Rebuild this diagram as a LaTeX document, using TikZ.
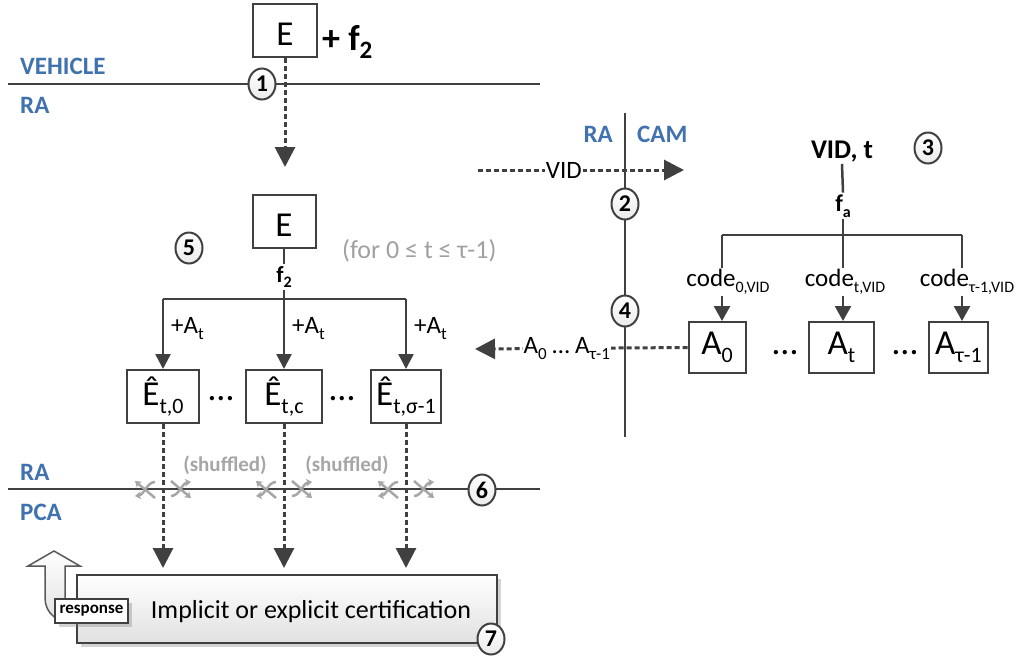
\documentclass[tikz,border=0pt]{standalone}
\usepackage{fontspec}
\setmainfont{Carlito}
\usetikzlibrary{arrows.meta,shapes.geometric,shadows,calc}
\definecolor{lnc}{HTML}{404040}
\definecolor{blu}{HTML}{3F72AF}
\definecolor{grc}{HTML}{A6A6A6}
\definecolor{gtx}{HTML}{A0A0A0}
\newcommand\fsz[1]{\fontsize{#1}{#1}\selectfont}
\newcommand\sbs[2]{\raisebox{-0.24em}{\fontsize{#1}{#1}\selectfont #2}}
\tikzset{
 wire/.style={draw=lnc, line width=2.5pt},
 box/.style={draw=lnc, line width=2pt, fill=white, inner sep=0pt, minimum height=53pt, font=\fsz{35}},
 num/.style={ellipse, draw=lnc, line width=2pt, top color=white, bottom color=black!8, minimum width=27pt, minimum height=31pt, inner sep=0pt, font=\fsz{24}\bfseries},
 side/.style={font=\fsz{25}\bfseries, text=blu, inner sep=0pt},
 dsh/.style={draw=lnc, line width=3pt, dash pattern=on 5pt off 3pt, -{Triangle[length=20pt,width=20pt]}},
 tarr/.style={wire, -{Triangle[length=15pt,width=15pt]}},
 lab/.style={font=\fsz{25}, inner sep=1pt},
 dots/.style={font=\fsz{36}, inner sep=0pt},
 shuf/.style={draw=grc, line width=2.5pt, -{Stealth[length=6pt,width=8pt]}},
 shufpic/.pic={
  \draw[shuf] (-8,9) -- (-28,-8);
  \draw[shuf] (-8,-7) .. controls (-16,-7) and (-19,6) .. (-28,7);
  \draw[shuf] (8,-8) -- (28,9);
  \draw[shuf] (8,7) .. controls (16,7) and (19,-6) .. (28,-7);
 },
 shadowed/.style={drop shadow={shadow xshift=4pt, shadow yshift=-4pt, opacity=.35}}
}
\begin{document}
\begin{tikzpicture}[x=1pt,y=-1pt]
\useasboundingbox (0,0) rectangle (1019,657);

% ---------- top: vehicle -> RA
\node[box, minimum width=64pt, text height=30pt, text depth=0pt] (E1) at (285,30) {E};
\node[anchor=base west, font=\fsz{36}\bfseries, inner sep=0pt] (pf) at (322,50) {+ f\sbs{25}{2}};
\coordinate (l1a) at (8,84); \coordinate (l1b) at (540,84);
\draw[draw=lnc, line width=2pt] (l1a) -- (l1b);
\node[side, anchor=base west] (veh) at (20,74) {VEHICLE};
\node[side, anchor=base west] (ra1) at (20,113) {RA};
\node[num] (n1) at (262,84) {1};
\coordinate (t1) at (285,167);
\draw[dsh] (E1.south) -- (t1);

% ---------- RA tree
\node[box, minimum width=63pt, text height=30pt, text depth=0pt] (E2) at (284,221.5) {E};
\node[num] (n5) at (189,248) {5};
\node[anchor=west, font=\fsz{26}, text=gtx, inner sep=0pt] (forc) at (342,251) {(for 0 ≤ t ≤ τ-1)};
\node[font=\fsz{23}\bfseries, inner sep=2pt] (f2) at (284,277) {f\sbs{16}{2}};
\coordinate (bl) at (163,299); \coordinate (bm) at (284,299); \coordinate (br) at (406,299);
\draw[wire] (E2.south) -- (f2.north);
\draw[wire] (f2.south) -- (bm);
\draw[wire] (bl) -- (br);
\node[box, minimum width=72pt] (H0) at (163,396.5) {Ê\sbs{22}{t,0}};
\node[box, minimum width=76pt] (H1) at (284,396.5) {Ê\sbs{22}{t,c}};
\node[box, minimum width=70pt] (H2) at (406,396.5) {Ê\sbs{22}{t,σ-1}};
\draw[tarr] (bl) -- (bl |- H0.north);
\draw[tarr] (bm) -- (bm |- H1.north);
\draw[tarr] (br) -- (br |- H2.north);
\node[lab, anchor=base west] (pa0) at (170,333) {+A\sbs{17}{t}};
\node[lab, anchor=base west] (pa1) at (291,333) {+A\sbs{17}{t}};
\node[lab, anchor=base west] (pa2) at (413,333) {+A\sbs{17}{t}};
\node[dots] (d1) at (221,399) {…};
\node[dots] (d2) at (342,399) {…};

% ---------- RA / PCA
\coordinate (l2a) at (8,489); \coordinate (l2b) at (540,489);
\draw[draw=lnc, line width=2pt] (l2a) -- (l2b);
\node[side, anchor=base west] (ra3) at (20,480) {RA};
\node[side, anchor=base west] (pca) at (20,520) {PCA};
\pic at (163,489) {shufpic};
\pic at (284,489) {shufpic};
\pic at (406,489) {shufpic};
\node[font=\fsz{21}\bfseries, text=grc, inner sep=0pt] (sh1) at (225,465) {(shuffled)};
\node[font=\fsz{21}\bfseries, text=grc, inner sep=0pt] (sh2) at (347,465) {(shuffled)};
\node[num] (n6) at (482,490) {6};
\coordinate (b0) at (163,568); \coordinate (b1) at (284,568); \coordinate (b2) at (406,568);
\draw[dsh] (H0.south) -- (b0);
\draw[dsh] (H1.south) -- (b1);
\draw[dsh] (H2.south) -- (b2);

% ---------- certification
\node[draw=lnc, line width=2pt, top color=white, bottom color=black!12, minimum width=420pt, minimum height=68pt, inner sep=0pt, shadowed] (cert) at (287,609) {};
\node[font=\fsz{26}, inner sep=0pt] (ctext) at (311,612) {Implicit or explicit certification};
\node[num] (n7) at (491,639) {7};
\path[draw=black!65, line width=1.5pt, top color=white, bottom color=black!12]
  (75,600) -- (65,600) -- (65,566) -- (80,566) -- (54,551) -- (28,566) -- (45,566) -- (45,598)
  .. controls (45,613) and (57,623) .. (75,623) -- cycle;
\node[draw=lnc, line width=1.5pt, fill=white, font=\fsz{17}\bfseries, minimum width=73pt, minimum height=24pt, inner sep=0pt, shadowed] (resp) at (91.5,611) {response};

% ---------- RA | CAM
\coordinate (vt) at (625,113); \coordinate (vb) at (625,437);
\draw[draw=lnc, line width=2pt] (vt) -- (vb);
\node[side, anchor=east] (ra2) at (613,134) {RA};
\node[side, anchor=west] (cam) at (637,134) {CAM};
\coordinate (vs) at (478,170); \coordinate (ve) at (684,170);
\draw[dsh] (vs) -- (ve) node[lab, fill=white, pos=0.417] (vid) {VID};
\node[num] (n2) at (625,204) {2};
\node[num] (n4) at (625,311) {4};

% ---------- CAM tree
\node[font=\fsz{27}\bfseries, inner sep=1pt] (vidt) at (842,152) {VID, t};
\node[num] (n3) at (928,148) {3};
\node[font=\fsz{24}\bfseries, inner sep=2pt] (fa) at (843,206) {f\sbs{16}{a}};
\coordinate (rbl) at (722,235); \coordinate (rbm) at (843,235); \coordinate (rbr) at (962,235);
\draw[wire] (vidt.south) -- (fa.north);
\draw[wire] (fa.south) -- (rbm);
\draw[wire] (rbl) -- (rbr);
\node[box, minimum width=57pt, minimum height=51pt] (A0) at (717,347.5) {A\sbs{22}{0}};
\node[box, minimum width=65pt, minimum height=51pt] (At) at (841.5,347.5) {A\sbs{22}{t}};
\node[box, minimum width=59pt, minimum height=51pt] (Ar) at (958.5,347.5) {A\sbs{22}{τ-1}};
\draw[wire, -{Triangle[length=15pt,width=16pt]}] (rbl) -- (rbl |- A0.north);
\draw[wire, -{Triangle[length=15pt,width=16pt]}] (rbm) -- (rbm |- At.north);
\draw[wire, -{Triangle[length=15pt,width=16pt]}] (rbr) -- (rbr |- Ar.north);
\node[lab, fill=white] (c0) at (728,282) {code\sbs{16}{0,VID}};
\node[lab, fill=white] (c1) at (845,282) {code\sbs{16}{t,VID}};
\node[lab, fill=white] (c2) at (967,282) {code\sbs{16}{τ-1,VID}};
\node[dots] (d3) at (785,353) {…};
\node[dots] (d4) at (905,353) {…};
\coordinate (ae) at (475,349);
\draw[dsh] (A0.west) -- (ae) node[lab, fill=white, pos=0.568] (alab) {A\sbs{17}{0} … A\sbs{17}{τ-1}};
\end{tikzpicture}
\end{document}
